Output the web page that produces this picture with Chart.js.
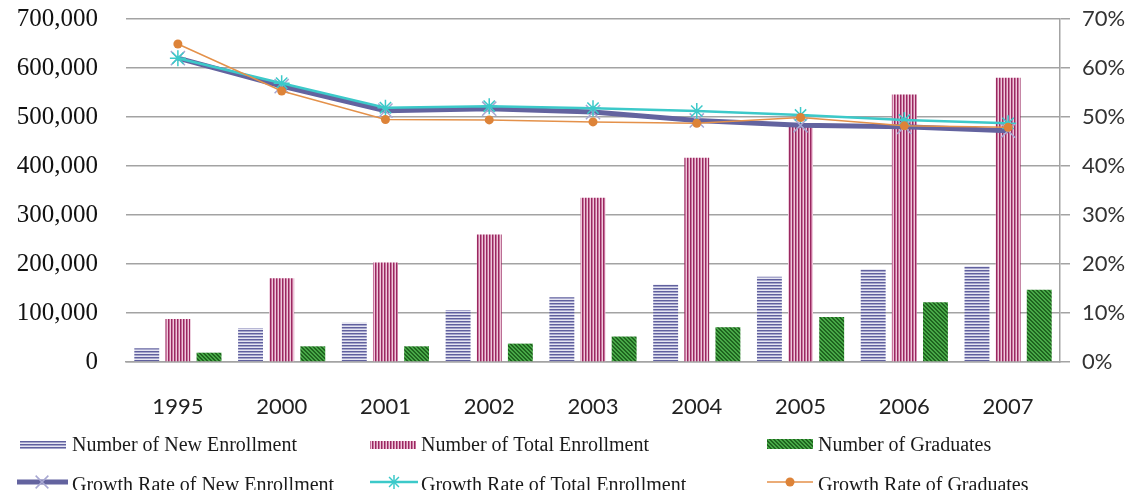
<!DOCTYPE html>
<html>
<head>
<meta charset="utf-8">
<title>Enrollment and Graduates</title>
<script src="https://cdn.jsdelivr.net/npm/chart.js"></script>
<style>
  html, body { margin: 0; padding: 0; background: #fff; }
  #wrap { width: 1137px; height: 499px; overflow: hidden; }
</style>
</head>
<body>
<div id="wrap"><canvas id="chart" width="1137" height="499"></canvas></div>
<script>
// categories
var years = ['1995', '2000', '2001', '2002', '2003', '2004', '2005', '2006', '2007'];

// counts (left axis)
var newEnrollment   = [28000, 69000, 80000, 106000, 132000, 158000, 174000, 190000, 196000];
var totalEnrollment = [88000, 171000, 203000, 260000, 335000, 417000, 485000, 546000, 580000];
var graduates       = [19000, 32000, 32000, 37500, 52000, 71000, 92000, 122000, 147500];

// growth rates in % (right axis)
var growthNew   = [62.0, 56.3, 51.3, 51.7, 51.0, 49.3, 48.3, 48.0, 47.2];
var growthTotal = [62.0, 56.9, 51.9, 52.2, 51.8, 51.2, 50.4, 49.4, 48.7];
var growthGrad  = [64.9, 55.3, 49.5, 49.4, 49.0, 48.7, 49.9, 48.2, 47.9];

// tick labels
var countTicks = [0, 100000, 200000, 300000, 400000, 500000, 600000, 700000];
var rateTicks  = [0, 10, 20, 30, 40, 50, 60, 70];

var legendNames = [
  'Number of New Enrollment', 'Number of Total Enrollment', 'Number of Graduates',
  'Growth Rate of New Enrollment', 'Growth Rate of Total Enrollment', 'Growth Rate of Graduates'
];

var GRID = '#a3a3a3';

// small tiles for the hatched bars
function makePattern(w, h, paint) {
  var c = document.createElement('canvas');
  c.width = w; c.height = h;
  var g = c.getContext('2d');
  paint(g);
  return g.createPattern(c, 'repeat');
}

var hStripes = makePattern(4, 3, function (g) {
  g.fillStyle = '#e6e6f2'; g.fillRect(0, 0, 4, 3);
  g.fillStyle = '#60609e'; g.fillRect(0, 0, 4, 1);
  g.fillStyle = '#a6a6cc'; g.fillRect(0, 1, 4, 1);
});

var vStripes = makePattern(3, 4, function (g) {
  g.fillStyle = '#eec8da'; g.fillRect(0, 0, 3, 4);
  g.fillStyle = '#9a2860'; g.fillRect(0, 0, 1, 4);
  g.fillStyle = '#c8749e'; g.fillRect(1, 0, 1, 4);
});

var dStripes = makePattern(4, 4, function (g) {
  g.fillStyle = '#1f641f'; g.fillRect(0, 0, 4, 4);
  g.fillStyle = '#47a847';
  for (var i = 0; i < 4; i++) {
    g.fillRect(i, i, 1, 1);
    g.fillRect((i + 1) % 4, i, 1, 1);
  }
});

// marker helpers shared by the legend
function drawCross(ctx, x, y, r, color, w) {
  ctx.save();
  ctx.strokeStyle = color; ctx.lineWidth = w;
  var d = r * Math.SQRT1_2;
  ctx.beginPath();
  ctx.moveTo(x - d, y - d); ctx.lineTo(x + d, y + d);
  ctx.moveTo(x + d, y - d); ctx.lineTo(x - d, y + d);
  ctx.stroke();
  ctx.restore();
}
function drawStar(ctx, x, y, r, color, w) {
  ctx.save();
  ctx.strokeStyle = color; ctx.lineWidth = w;
  ctx.beginPath();
  ctx.moveTo(x, y - r); ctx.lineTo(x, y + r);
  ctx.moveTo(x - r, y); ctx.lineTo(x + r, y);
  ctx.stroke();
  ctx.restore();
  drawCross(ctx, x, y, r, color, w);
}

// two rows, three columns under the plot
var gridLegend = {
  id: 'gridLegend',
  afterDraw: function (chart) {
    var ctx = chart.ctx;
    var cols = [{ sx: 20, tx: 72 }, { sx: 370, tx: 421 }, { sx: 767, tx: 818 }];
    ctx.save();
    ctx.font = '20px "Liberation Serif", "Times New Roman", serif';
    ctx.fillStyle = '#1a1a1a';
    ctx.textBaseline = 'alphabetic';

    // row 1: hatched boxes
    var fills = [hStripes, vStripes, dStripes];
    for (var i = 0; i < 3; i++) {
      ctx.fillStyle = fills[i];
      ctx.fillRect(cols[i].sx, i === 2 ? 439 : 441, 46, i === 2 ? 10 : 8);
      ctx.fillStyle = '#1a1a1a';
      ctx.fillText(legendNames[i], cols[i].tx, 451);
    }

    // row 2 runs off the bottom edge
    ctx.beginPath();
    ctx.rect(0, 460, chart.width, 30);
    ctx.clip();

    var y = 482;
    ctx.lineCap = 'butt';
    ctx.strokeStyle = '#63639f'; ctx.lineWidth = 5;
    ctx.beginPath(); ctx.moveTo(17, y); ctx.lineTo(68, y); ctx.stroke();
    drawCross(ctx, 42, y, 9, '#a7a7d2', 1.5);

    ctx.strokeStyle = '#3cc9c9'; ctx.lineWidth = 2.5;
    ctx.beginPath(); ctx.moveTo(370, y); ctx.lineTo(418, y); ctx.stroke();
    drawStar(ctx, 394, y, 7, '#3cc9c9', 1.5);

    ctx.strokeStyle = '#e4914a'; ctx.lineWidth = 1.5;
    ctx.beginPath(); ctx.moveTo(767, y); ctx.lineTo(813, y); ctx.stroke();
    ctx.fillStyle = '#dd8338';
    ctx.beginPath(); ctx.arc(790, y, 4.5, 0, Math.PI * 2); ctx.fill();

    ctx.fillStyle = '#1a1a1a';
    for (var j = 0; j < 3; j++) {
      ctx.fillText(legendNames[j + 3], cols[j].tx, 491);
    }
    ctx.restore();
  }
};

// keep the plot box fixed regardless of label overhang
function noPad(s) { s.paddingTop = 0; s.paddingBottom = 0; }

var ctx = document.getElementById('chart').getContext('2d');
var chart = new Chart(ctx, {
  type: 'bar',
  data: {
    labels: years,
    datasets: [
      {
        type: 'line', label: legendNames[3], data: growthNew, yAxisID: 'y1', order: 3,
        borderColor: '#63639f', borderWidth: 5, tension: 0,
        pointStyle: 'crossRot', pointRadius: 10, pointBorderColor: '#a7a7d2',
        pointBorderWidth: 1.5, pointBackgroundColor: '#a7a7d2'
      },
      {
        type: 'line', label: legendNames[4], data: growthTotal, yAxisID: 'y1', order: 2,
        borderColor: '#3cc9c9', borderWidth: 2.5, tension: 0,
        pointStyle: 'star', pointRadius: 8, pointBorderColor: '#3cc9c9',
        pointBorderWidth: 1.5, pointBackgroundColor: '#3cc9c9'
      },
      {
        type: 'line', label: legendNames[5], data: growthGrad, yAxisID: 'y1', order: 1,
        borderColor: '#e4914a', borderWidth: 1.5, tension: 0,
        pointStyle: 'circle', pointRadius: 4.5, pointBorderWidth: 0,
        pointBackgroundColor: '#dd8338'
      },
      { label: legendNames[0], data: newEnrollment, backgroundColor: hStripes, yAxisID: 'y', order: 10 },
      { label: legendNames[1], data: totalEnrollment, backgroundColor: vStripes, yAxisID: 'y', order: 10 },
      { label: legendNames[2], data: graduates, backgroundColor: dStripes, yAxisID: 'y', order: 10 }
    ]
  },
  options: {
    responsive: false,
    animation: false,
    devicePixelRatio: 1,
    datasets: { bar: { categoryPercentage: 0.9, barPercentage: 0.8 } },
    layout: { padding: { top: 19, left: 0, right: 0, bottom: 0 } },
    plugins: { legend: { display: false }, tooltip: { enabled: false } },
    scales: {
      x: {
        grid: { display: false, drawTicks: false },
        border: { display: true, color: GRID, width: 1.5 },
        ticks: { padding: 32, color: '#222', font: { family: 'Lato, "Open Sans", sans-serif', size: 22 } },
        afterFit: function (s) { s.height = 137; }
      },
      y: {
        position: 'left', min: 0, max: 700000,
        afterBuildTicks: function (s) { s.ticks = countTicks.map(function (v) { return { value: v }; }); },
        grid: { color: GRID, lineWidth: 1.5, drawTicks: false },
        border: { display: false },
        ticks: {
          padding: 28, color: '#111',
          font: { family: '"Liberation Serif", "Times New Roman", serif', size: 25 },
          callback: function (v) { return v.toLocaleString('en-US'); }
        },
        afterFit: function (s) { s.width = 126; noPad(s); }
      },
      y1: {
        position: 'right', min: 0, max: 70,
        afterBuildTicks: function (s) { s.ticks = rateTicks.map(function (v) { return { value: v }; }); },
        grid: { drawOnChartArea: false, drawTicks: true, tickLength: 10, color: GRID, lineWidth: 1.5 },
        border: { display: true, color: GRID, width: 1.5 },
        ticks: {
          padding: 12, color: '#333',
          font: { family: 'Lato, "Open Sans", sans-serif', size: 22 },
          callback: function (v) { return v + '%'; }
        },
        afterFit: function (s) { s.width = 1137 - 1060; noPad(s); }
      }
    }
  },
  plugins: [gridLegend]
});
</script>
</body>
</html>
